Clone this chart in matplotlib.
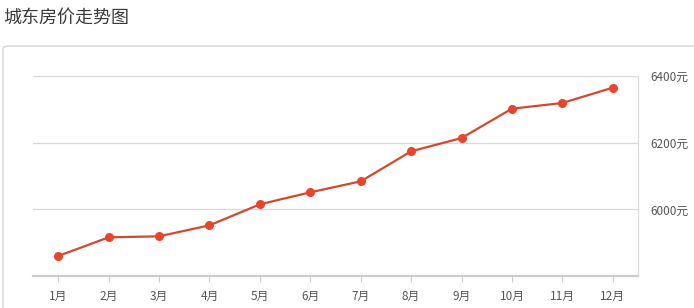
import matplotlib
matplotlib.use("Agg")
import matplotlib.pyplot as plt
from matplotlib.patches import FancyBboxPatch

plt.rcParams['font.family'] = ['Noto Sans CJK SC', 'DejaVu Sans']

months = ["1月", "2月", "3月", "4月", "5月", "6月", "7月", "8月", "9月", "10月", "11月", "12月"]
prices = [5860, 5916, 5919, 5952, 6015, 6051, 6084, 6174, 6214, 6302, 6319, 6365]
y_ticks = [6000, 6200, 6400]
y_labels = ["6000元", "6200元", "6400元"]

W, H = 694, 308
fig = plt.figure(figsize=(W / 100, H / 100), dpi=100)

# outer card border, behind everything, running off right and bottom edges
card = FancyBboxPatch((3 / W, -0.05), 1.1, (H - 46) / H + 0.05,
                      boxstyle="round,pad=0,rounding_size=0.01",
                      transform=fig.transFigure, facecolor="none",
                      edgecolor="#d4d4d4", linewidth=1.0, zorder=-5)
fig.patches.append(card)

fig.text(3 / W, 1 - 18 / H, "城东房价走势图", fontsize=13, color="#3a3a3a",
         va="center", ha="left")

ax = fig.add_axes([33 / W, (H - 276) / H, (638 - 33) / W, (276 - 76) / H])
ax.set_facecolor("none")
x = list(range(len(months)))
ax.plot(x, prices, color="#d24a2e", linewidth=1.6, marker="o", markersize=5.5,
        markerfacecolor="#e8452c", markeredgecolor="#e8452c", zorder=3)

ax.set_xlim(-0.5, len(months) - 0.5)
ax.set_ylim(5800, 6400)
ax.set_xticks(x)
ax.set_xticklabels(months, fontsize=8.5, color="#555555")
ax.yaxis.tick_right()
ax.set_yticks(y_ticks)
ax.set_yticklabels(y_labels, fontsize=8.5, color="#555555")
ax.tick_params(axis="y", length=0, pad=9)
ax.tick_params(axis="x", length=4, width=0.8, color="#cccccc", pad=6)
ax.grid(axis="y", color="#d8d8d8", linewidth=0.9)
ax.set_axisbelow(True)

for side in ["left", "top"]:
    ax.spines[side].set_visible(False)
ax.spines["right"].set_color("#dddddd")
ax.spines["right"].set_linewidth(0.9)
ax.spines["bottom"].set_color("#cccccc")
ax.spines["bottom"].set_linewidth(1.6)

fig.savefig("out.png", dpi=100)
